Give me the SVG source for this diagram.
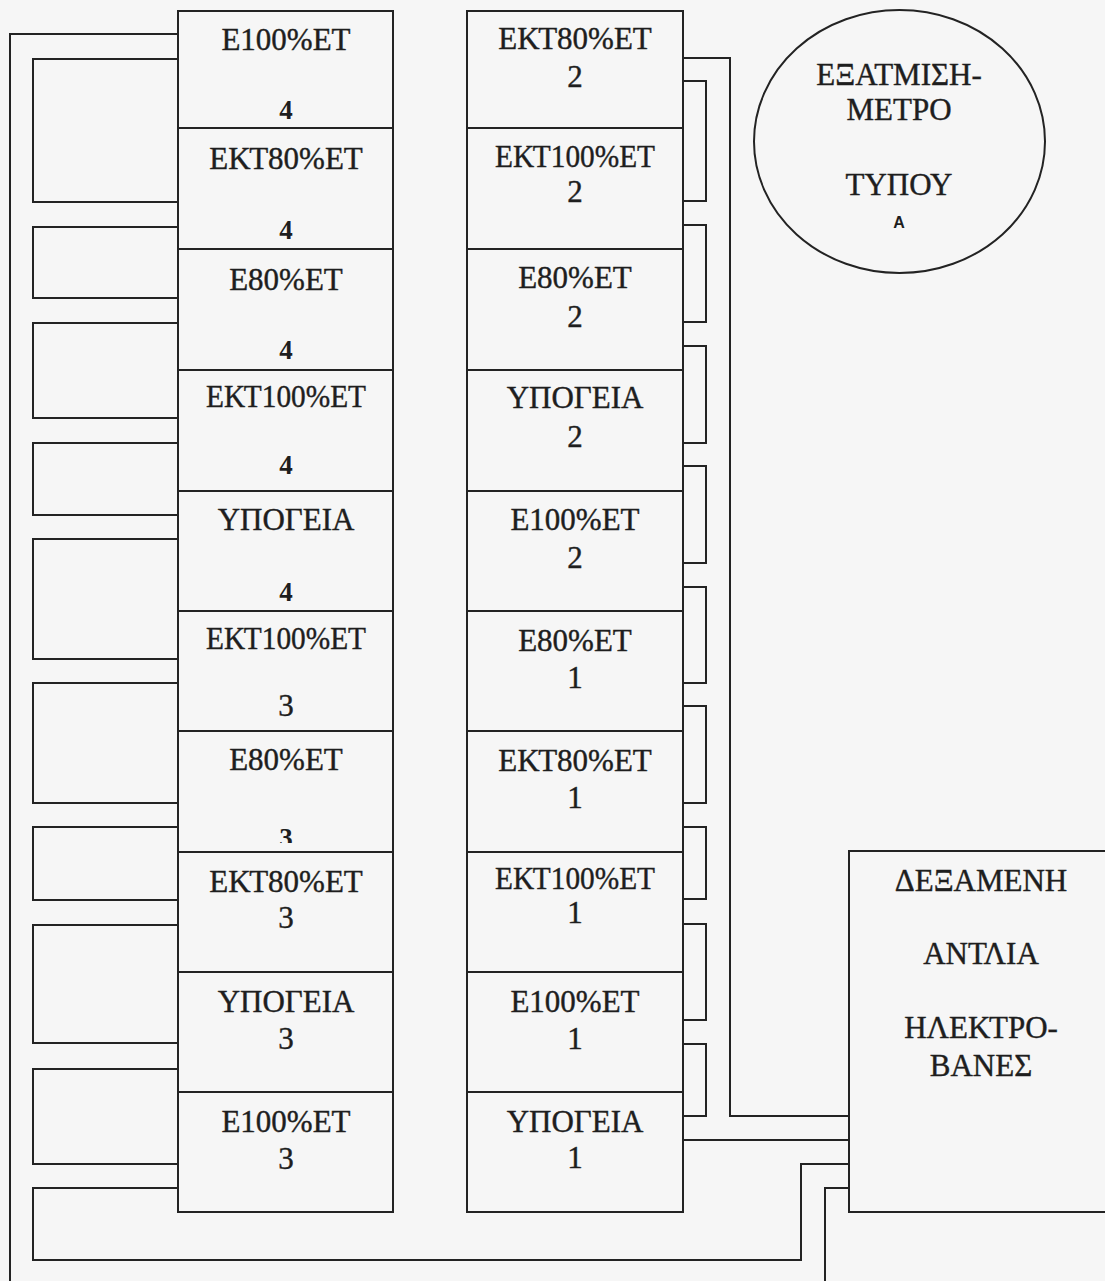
<svg xmlns="http://www.w3.org/2000/svg" width="1105" height="1281" viewBox="0 0 1105 1281">
<defs>
<style>
.bg{fill:#f6f6f6}
.box{fill:#f6f6f6;stroke:#232323;stroke-width:2}
.ln{fill:none;stroke:#232323;stroke-width:2}
.t{font-family:"Liberation Serif","Times New Roman",serif;font-size:31px;fill:#1e1e1e;stroke:#1e1e1e;stroke-width:0.4;text-anchor:middle}
.s{font-size:27px;font-weight:bold;stroke-width:0}
.a{font-family:"Liberation Sans",Arial,sans-serif;font-size:16px;font-weight:bold;fill:#1e1e1e;text-anchor:middle}
</style>
<clipPath id="cut3"><rect x="178" y="800" width="215" height="43"/></clipPath>
</defs>
<rect class="bg" x="0" y="0" width="1105" height="1281"/>

<g id="connectors">
<path class="ln" d="M178,34 H10 V1281"/>
<path class="ln" d="M178,59 H33 V202 H178"/>
<path class="ln" d="M178,227 H33 V298 H178"/>
<path class="ln" d="M178,323 H33 V418 H178"/>
<path class="ln" d="M178,443 H33 V515 H178"/>
<path class="ln" d="M178,539 H33 V659 H178"/>
<path class="ln" d="M178,683 H33 V803 H178"/>
<path class="ln" d="M178,827 H33 V900 H178"/>
<path class="ln" d="M178,925 H33 V1043 H178"/>
<path class="ln" d="M178,1069 H33 V1164 H178"/>
<path class="ln" d="M178,1188 H33 V1260 H801 V1164 H849"/>
<path class="ln" d="M683,58 H730 V1116 H849"/>
<path class="ln" d="M683,81 H706 V201 H683"/>
<path class="ln" d="M683,225 H706 V322 H683"/>
<path class="ln" d="M683,346 H706 V443 H683"/>
<path class="ln" d="M683,466 H706 V563 H683"/>
<path class="ln" d="M683,587 H706 V683 H683"/>
<path class="ln" d="M683,706 H706 V803 H683"/>
<path class="ln" d="M683,827 H706 V899 H683"/>
<path class="ln" d="M683,924 H706 V1020 H683"/>
<path class="ln" d="M683,1044 H706 V1116 H683"/>
<path class="ln" d="M683,1140 H849"/>
<path class="ln" d="M849,1188 H825 V1281"/>
</g>

<g id="L1"><rect class="box" x="178" y="11" width="215" height="117"/><text class="t" x="286" y="50">Ε100%ΕΤ</text><text class="t s" x="286" y="119">4</text></g>
<g id="L2"><rect class="box" x="178" y="128" width="215" height="121"/><text class="t" x="286" y="169">ΕΚΤ80%ΕΤ</text><text class="t s" x="286" y="239">4</text></g>
<g id="L3"><rect class="box" x="178" y="249" width="215" height="121"/><text class="t" x="286" y="290">Ε80%ΕΤ</text><text class="t s" x="286" y="359">4</text></g>
<g id="L4"><rect class="box" x="178" y="370" width="215" height="121"/><text class="t" x="286" y="407" textLength="160" lengthAdjust="spacingAndGlyphs">ΕΚΤ100%ΕΤ</text><text class="t s" x="286" y="474">4</text></g>
<g id="L5"><rect class="box" x="178" y="491" width="215" height="120"/><text class="t" x="286" y="530">ΥΠΟΓΕΙΑ</text><text class="t s" x="286" y="601">4</text></g>
<g id="L6"><rect class="box" x="178" y="611" width="215" height="120"/><text class="t" x="286" y="649" textLength="160" lengthAdjust="spacingAndGlyphs">ΕΚΤ100%ΕΤ</text><text class="t" x="286" y="716">3</text></g>
<g id="L7"><rect class="box" x="178" y="731" width="215" height="121"/><text class="t" x="286" y="770">Ε80%ΕΤ</text><text class="t s" x="286" y="847" clip-path="url(#cut3)">3</text></g>
<g id="L8"><rect class="box" x="178" y="852" width="215" height="120"/><text class="t" x="286" y="892">ΕΚΤ80%ΕΤ</text><text class="t" x="286" y="928">3</text></g>
<g id="L9"><rect class="box" x="178" y="972" width="215" height="120"/><text class="t" x="286" y="1012">ΥΠΟΓΕΙΑ</text><text class="t" x="286" y="1049">3</text></g>
<g id="L10"><rect class="box" x="178" y="1092" width="215" height="120"/><text class="t" x="286" y="1132">Ε100%ΕΤ</text><text class="t" x="286" y="1169">3</text></g>

<g id="R1"><rect class="box" x="467" y="11" width="216" height="117"/><text class="t" x="575" y="49">ΕΚΤ80%ΕΤ</text><text class="t" x="575" y="87">2</text></g>
<g id="R2"><rect class="box" x="467" y="128" width="216" height="121"/><text class="t" x="575" y="167" textLength="160" lengthAdjust="spacingAndGlyphs">ΕΚΤ100%ΕΤ</text><text class="t" x="575" y="202">2</text></g>
<g id="R3"><rect class="box" x="467" y="249" width="216" height="121"/><text class="t" x="575" y="288">Ε80%ΕΤ</text><text class="t" x="575" y="327">2</text></g>
<g id="R4"><rect class="box" x="467" y="370" width="216" height="121"/><text class="t" x="575" y="408">ΥΠΟΓΕΙΑ</text><text class="t" x="575" y="447">2</text></g>
<g id="R5"><rect class="box" x="467" y="491" width="216" height="120"/><text class="t" x="575" y="530">Ε100%ΕΤ</text><text class="t" x="575" y="568">2</text></g>
<g id="R6"><rect class="box" x="467" y="611" width="216" height="120"/><text class="t" x="575" y="651">Ε80%ΕΤ</text><text class="t" x="575" y="688">1</text></g>
<g id="R7"><rect class="box" x="467" y="731" width="216" height="121"/><text class="t" x="575" y="771">ΕΚΤ80%ΕΤ</text><text class="t" x="575" y="808">1</text></g>
<g id="R8"><rect class="box" x="467" y="852" width="216" height="120"/><text class="t" x="575" y="889" textLength="160" lengthAdjust="spacingAndGlyphs">ΕΚΤ100%ΕΤ</text><text class="t" x="575" y="923">1</text></g>
<g id="R9"><rect class="box" x="467" y="972" width="216" height="120"/><text class="t" x="575" y="1012">Ε100%ΕΤ</text><text class="t" x="575" y="1049">1</text></g>
<g id="R10"><rect class="box" x="467" y="1092" width="216" height="120"/><text class="t" x="575" y="1132">ΥΠΟΓΕΙΑ</text><text class="t" x="575" y="1168">1</text></g>

<g id="evaporimeter"><ellipse class="box" cx="899.5" cy="141.5" rx="145.5" ry="131.5"/>
<text class="t" x="899" y="85">ΕΞΑΤΜΙΣΗ-</text>
<text class="t" x="899" y="120">ΜΕΤΡΟ</text>
<text class="t" x="899" y="195">ΤΥΠΟΥ</text>
<text class="a" x="899" y="228">Α</text></g>

<g id="tank"><rect class="box" x="849" y="851" width="270" height="361"/>
<text class="t" x="981" y="891">ΔΕΞΑΜΕΝΗ</text>
<text class="t" x="981" y="964">ΑΝΤΛΙΑ</text>
<text class="t" x="981" y="1038">ΗΛΕΚΤΡΟ-</text>
<text class="t" x="981" y="1076">ΒΑΝΕΣ</text></g>
</svg>
